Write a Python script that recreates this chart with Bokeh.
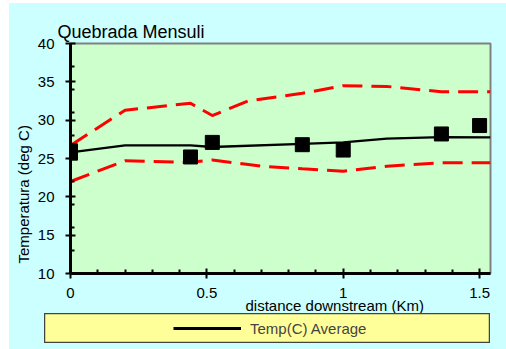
from bokeh.plotting import figure
from bokeh.layouts import column, row
from bokeh.models import Range1d, FixedTicker, Title, Legend, LegendItem
from bokeh.embed import file_html
from bokeh.resources import INLINE

FONT = "Liberation Sans"

# Observed stream temperatures (squares)
obs_km = [0.0, 0.0, 0.44, 0.52, 0.85, 1.0, 1.36, 1.5]
obs_temp = [26.0, 25.7, 25.2, 27.1, 26.8, 26.1, 28.2, 29.3]

# Average temperature along the reach
avg_km = [0.0, 0.2, 0.44, 0.52, 0.85, 1.0, 1.16, 1.36, 1.54]
avg_temp = [25.8, 26.7, 26.7, 26.5, 26.9, 27.1, 27.6, 27.8, 27.75]

# Upper and lower envelope (dashed red)
upper_km = [0.0, 0.2, 0.44, 0.52, 0.65, 0.85, 1.0, 1.16, 1.36, 1.54]
upper_temp = [26.7, 31.3, 32.2, 30.6, 32.5, 33.5, 34.5, 34.4, 33.7, 33.7]
lower_km = [0.0, 0.2, 0.44, 0.52, 0.7, 0.85, 1.0, 1.16, 1.36, 1.54]
lower_temp = [22.0, 24.7, 24.5, 24.8, 24.0, 23.65, 23.35, 24.0, 24.45, 24.45]

x_major = [0, 0.5, 1, 1.5]
x_labels = ["0", "0.5", "1", "1.5"]
x_minor = [0.1, 0.2, 0.3, 0.4, 0.6, 0.7, 0.8, 0.9, 1.1, 1.2, 1.3, 1.4]
y_major = [10, 15, 20, 25, 30, 35, 40]
y_minor = [13, 16, 19, 22, 28, 31, 34, 37]

CYAN = "#CCFFFF"

p = figure(width=497, height=310,
           x_range=Range1d(0, 1.54), y_range=Range1d(10, 40),
           output_backend="svg", toolbar_location=None, title=None,
           min_border_left=61, min_border_right=16,
           min_border_top=40, min_border_bottom=40,
           background_fill_color="#CCFFCC", border_fill_color=CYAN,
           outline_line_color="#808080", outline_line_width=2)
p.grid.visible = False

p.line(upper_km, upper_temp, line_color="#FF0000", line_width=3, line_dash="20 9")
p.line(lower_km, lower_temp, line_color="#FF0000", line_width=3, line_dash="20 9")
p.line(avg_km, avg_temp, line_color="black", line_width=2.3)
p.scatter(obs_km, obs_temp, marker="square", size=14, fill_color="black",
          line_color="black")

for ax in (p.xaxis[0], p.yaxis[0]):
    ax.axis_line_color = "black"
    ax.axis_line_width = 3
    ax.major_tick_line_color = "black"
    ax.major_tick_line_width = 2
    ax.minor_tick_line_color = "black"
    ax.minor_tick_line_width = 2
    ax.major_tick_in = 5
    ax.major_tick_out = 5
    ax.minor_tick_in = 4
    ax.minor_tick_out = 0
    ax.major_label_text_font = FONT
    ax.major_label_text_font_size = "15px"
    ax.major_label_text_color = "black"

p.xaxis.ticker = FixedTicker(ticks=x_major, minor_ticks=x_minor)
p.xaxis.major_label_overrides = dict(zip(x_major, x_labels))
p.xaxis.major_label_standoff = 9
p.yaxis.ticker = FixedTicker(ticks=y_major, minor_ticks=y_minor)
p.yaxis.major_label_standoff = 11

p.add_layout(Title(text="Quebrada Mensuli", align="left", offset=-13,
                   standoff=4, text_font=FONT, text_font_size="18px",
                   text_font_style="normal", text_color="black"), "above")
p.add_layout(Title(text="Temperatura (deg C)", align="left", offset=10,
                   standoff=5, text_font=FONT, text_font_size="15px",
                   text_font_style="normal", text_color="black"), "left")
p.add_layout(Title(text="distance downstream (Km)", align="left", offset=175,
                   standoff=-11, text_font=FONT, text_font_size="15px",
                   text_font_style="normal", text_color="black"), "below")

# legend strip underneath the chart
lf = figure(width=446, height=30, x_range=p.x_range, y_range=p.y_range,
            output_backend="svg", toolbar_location=None, title=None,
            x_axis_location=None, y_axis_location=None,
            min_border_left=0, min_border_right=0,
            min_border_top=0, min_border_bottom=0,
            margin=(0, 16, 6, 35),
            background_fill_color="#FFFF99", border_fill_color="#FFFF99",
            outline_line_color="#444444", outline_line_width=1.5)
lf.grid.visible = False
key = lf.line(avg_km, avg_temp, line_color="black", line_width=3, visible=False)
legend = Legend(items=[LegendItem(label="Temp(C) Average", renderers=[key])],
                location=(129, 5), padding=0, margin=0, spacing=0,
                glyph_width=68, glyph_height=20, label_standoff=9,
                label_text_font=FONT, label_text_font_size="15px",
                background_fill_alpha=0, border_line_alpha=0,
                inactive_fill_alpha=0)
lf.add_layout(legend, "center")

strip = row(lf, styles={"background-color": CYAN}, margin=0)
page = column(p, strip, margin=(3, 0, 0, 9), spacing=0,
              styles={"background-color": CYAN})
open("out.html", "w").write(file_html(page, INLINE))
